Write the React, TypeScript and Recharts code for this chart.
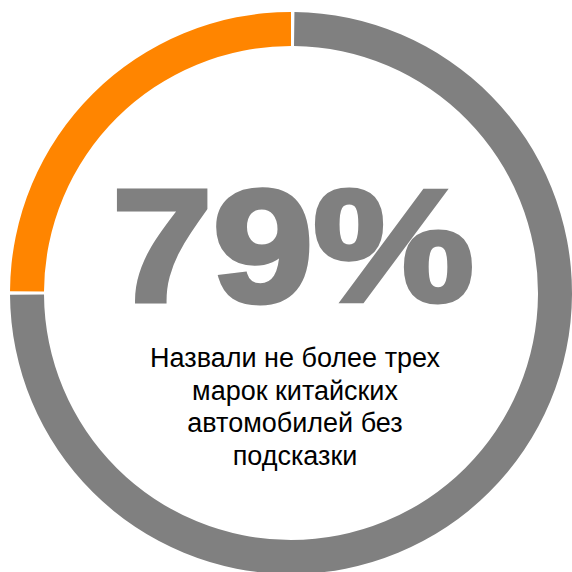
import React from 'react';
import { PieChart, Pie, Cell, Label } from 'recharts';

// shares as drawn in the ring: orange quarter, gray remainder
const segmentNames = ['Назвали более трех', 'Назвали не более трех'];
const segmentValues = [25, 75];
const segmentColors = ['#FF8500', '#808080'];

const bigValue = '79%';
const captionLines = ['Назвали не более трех', 'марок китайских', 'автомобилей без', 'подсказки'];

const data = segmentNames.map((name, i) => ({ name, value: segmentValues[i] }));

const CenterText = (props: any) => {
  const { viewBox } = props;
  const cx = viewBox?.cx ?? 291;
  const cy = viewBox?.cy ?? 293;
  return (
    <g>
      <text
        x={0}
        y={0}
        transform={`translate(${cx + 2}, ${cy + 8}) scale(1.13, 1)`}
        textAnchor="middle"
        fill="#808080"
        stroke="#808080"
        strokeWidth={5}
        strokeLinejoin="miter"
        strokeMiterlimit={3}
        fontFamily="'Liberation Sans', Arial, sans-serif"
        fontWeight="bold"
        fontSize={160}
      >
        {bigValue}
      </text>
      {captionLines.map((line, i) => (
        <text
          key={line}
          x={cx + 4}
          y={cy + 74 + i * 32.5}
          textAnchor="middle"
          fill="#000000"
          fontFamily="'Liberation Sans', Arial, sans-serif"
          fontSize={27}
        >
          {line}
        </text>
      ))}
    </g>
  );
};

export default function App() {
  return (
    <div style={{ position: 'absolute', left: 0, top: 0, width: 572, height: 572, background: '#fff' }}>
      <PieChart width={572} height={572} margin={{ top: 0, right: 0, bottom: 0, left: 0 }}>
        <Pie
          data={data}
          dataKey="value"
          nameKey="name"
          cx={291}
          cy={293}
          innerRadius={247}
          outerRadius={281}
          startAngle={90}
          endAngle={450}
          paddingAngle={0.7}
          stroke="none"
          isAnimationActive={false}
        >
          {data.map((entry, i) => (
            <Cell key={entry.name} fill={segmentColors[i]} />
          ))}
          <Label position="center" content={<CenterText />} />
        </Pie>
      </PieChart>
    </div>
  );
}
